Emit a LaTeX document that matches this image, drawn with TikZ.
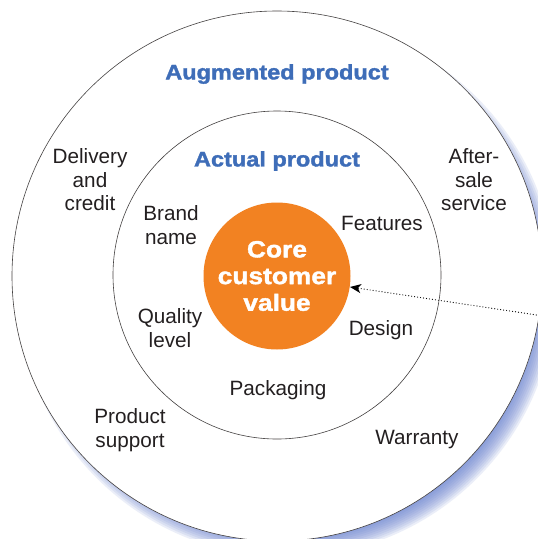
\documentclass[tikz,border=0pt]{standalone}
\usepackage{fontspec}
\setmainfont{Liberation Sans}
\newfontfamily\heavyfont{Liberation Sans Bold}[FakeStretch=1.12, FakeBold=1.6]
\usetikzlibrary{arrows.meta}
\definecolor{coreorange}{RGB}{242,130,34}
\definecolor{labelblue}{RGB}{62,109,184}
\definecolor{glowblue}{RGB}{105,130,208}
\definecolor{inkgray}{RGB}{35,31,32}

\begin{document}
\begin{tikzpicture}[x=1pt, y=-1pt, line width=0.6pt, line cap=round, line join=round,
        voce/.style={font=\fontsize{20.7}{23.5}\selectfont, align=center, text=inkgray, inner sep=0pt},
        titolo/.style={font=\heavyfont\fontsize{21}{24}\selectfont, text=labelblue, inner sep=0pt}]
        % Riquadro dell'immagine
        \useasboundingbox[fill=white] (0,0) rectangle (538,539);

        % Alone azzurro dietro il cerchio esterno (in basso a destra)
        \foreach \r in {0,...,11}
            \fill[glowblue, opacity=0.13] (287,288) circle[radius=269-2*\r];

        % Cerchio esterno (prodotto aumentato) e cerchio intermedio (prodotto effettivo)
        \draw[draw=inkgray!85, fill=white] (277,276) circle[radius=265];
        \draw[draw=inkgray!85] (277,275) circle[radius=164];

        % Nucleo arancione
        \node[circle, fill=coreorange, minimum size=147pt, inner sep=0pt, text=white, align=center,
              font=\heavyfont\fontsize{23.5}{26.7}\selectfont] (core) at (277,276) {Core\\customer\\value};

        % Titoli degli anelli
        \node[titolo] (augmented) at (277,74) {Augmented product};
        \node[titolo] (actual) at (277,161) {Actual product};

        % Voci dell'anello intermedio
        \node[voce] (brand) at (171,225) {Brand\\name};
        \node[voce] (features) at (382,223) {Features};
        \node[voce] (quality) at (170,328) {Quality\\level};
        \node[voce] (design) at (381,330) {Design};
        \node[voce] (packaging) at (278,390) {Packaging};

        % Voci dell'anello esterno
        \node[voce] (delivery) at (90,180) {Delivery\\and\\credit};
        \node[voce] (aftersale) at (474,180) {After-\\sale\\service};
        \node[voce] (support) at (130,430) {Product\\support};
        \node[voce] (warranty) at (417,440) {Warranty};

        % Freccia punteggiata verso il nucleo
        \coordinate (arrowstart) at (560,318.5);
        \draw[line width=1.2pt, dash pattern=on 0pt off 3pt,
              -{Stealth[length=11pt, width=9pt, inset=3pt]}] (arrowstart) -- (core);
    \end{tikzpicture}
\end{document}
